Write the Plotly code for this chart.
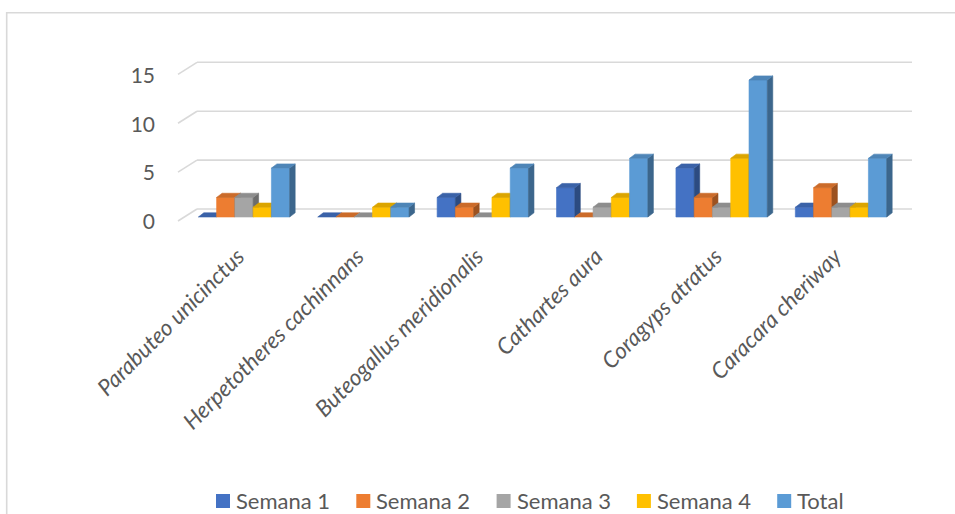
import plotly.graph_objects as go

# ---- data ----
species = [
    "Parabuteo unicinctus",
    "Herpetotheres cachinnans",
    "Buteogallus meridionalis",
    "Cathartes aura",
    "Coragyps atratus",
    "Caracara cheriway",
]
series_names = ["Semana 1", "Semana 2", "Semana 3", "Semana 4", "Total"]
semana_1 = [0, 0, 2, 3, 5, 1]
semana_2 = [2, 0, 1, 0, 2, 3]
semana_3 = [2, 0, 0, 1, 1, 1]
semana_4 = [1, 1, 2, 2, 6, 1]
total = [5, 1, 5, 6, 14, 6]
y_ticks = [0, 5, 10, 15]

series_values = [semana_1, semana_2, semana_3, semana_4, total]
front_colors = ["#4472C4", "#ED7D31", "#A5A5A5", "#FFC000", "#5B9BD5"]


def shade(hex_color, f):
    r, g, b = (int(hex_color[i:i + 2], 16) for i in (1, 3, 5))
    return "#%02x%02x%02x" % (int(r * f), int(g * f), int(b * f))


top_colors = [shade(c, 0.86) for c in front_colors]
side_colors = [shade(c, 0.66) for c in front_colors]

# ---- geometry ----
W, H = 955, 514
ML, MR, MT, MB = 178, 43, 40, 286
plot_w = W - ML - MR
plot_h = H - MT - MB
x_range = [-0.5528, 5.5946]
y_range = [-1.125, 18.10]
px_x = plot_w / (x_range[1] - x_range[0])
px_y = plot_h / (y_range[1] - y_range[0])

bar_w = 0.153
n_series = len(series_names)
depth_x = 5.5 / px_x
depth_y = 4.2 / px_y
wall_back = 8.0 / px_y
wall_front = -4.0 / px_y
wall_dx = 19.0 / plot_w

TEXT = "#595959"
GRID = "#D9D9D9"
FONT = "Lato"


def poly(xs, ys, color):
    return go.Scatter(
        x=xs + [xs[0]], y=ys + [ys[0]], mode="lines", fill="toself",
        fillcolor=color, line=dict(color=color, width=0.6),
        hoverinfo="skip", showlegend=False,
    )


fig = go.Figure()

# 3D columns, painted left to right so each column hides its neighbour's side
for i in range(len(species)):
    for k in range(n_series):
        v = series_values[k][i]
        left = i - n_series * bar_w / 2 + k * bar_w
        right = left + bar_w
        if v > 0:
            fig.add_trace(poly([left, right, right, left], [0, 0, v, v], front_colors[k]))
            fig.add_trace(poly([right, right + depth_x, right + depth_x, right],
                               [0, depth_y, v + depth_y, v], side_colors[k]))
        fig.add_trace(poly([left, right, right + depth_x, left + depth_x],
                           [v, v, v + depth_y, v + depth_y], top_colors[k]))

shapes = []
# back wall gridlines with the slanted side-wall segment at the left
for t in y_ticks:
    shapes.append(dict(type="line", xref="paper", yref="y", x0=0, x1=wall_dx,
                       y0=t + wall_front, y1=t + wall_back,
                       line=dict(color=GRID, width=1.6), layer="below"))
    shapes.append(dict(type="line", xref="paper", yref="y", x0=wall_dx, x1=1,
                       y0=t + wall_back, y1=t + wall_back,
                       line=dict(color=GRID, width=1.6), layer="below"))


def px_to_paper_x(px):
    return (px - ML) / plot_w


def px_to_paper_y(py):
    return (H - MB - py) / plot_h


# chart border (top and left edges visible)
shapes.append(dict(type="rect", xref="paper", yref="paper",
                   x0=px_to_paper_x(6.7), x1=px_to_paper_x(W + 5),
                   y0=px_to_paper_y(H + 5), y1=px_to_paper_y(12.7),
                   line=dict(color=GRID, width=1.6), layer="below"))

# legend: coloured squares followed by series names
annotations = []
leg_x0, leg_step, leg_y, sq = 216, 140.3, 501, 14
for k, name in enumerate(series_names):
    sx = leg_x0 + k * leg_step
    shapes.append(dict(type="rect", xref="paper", yref="paper",
                       x0=px_to_paper_x(sx), x1=px_to_paper_x(sx + sq),
                       y0=px_to_paper_y(leg_y + sq / 2), y1=px_to_paper_y(leg_y - sq / 2),
                       fillcolor=front_colors[k], line=dict(width=0)))
    annotations.append(dict(xref="paper", yref="paper",
                            x=px_to_paper_x(sx + sq + 4), y=px_to_paper_y(leg_y),
                            text=name, showarrow=False, xanchor="left", yanchor="middle",
                            font=dict(family=FONT, size=22, color=TEXT)))

fig.update_layout(
    width=W, height=H,
    margin=dict(l=ML, r=MR, t=MT, b=MB),
    paper_bgcolor="white", plot_bgcolor="white",
    showlegend=False,
    shapes=shapes,
    annotations=annotations,
    xaxis=dict(
        range=x_range, showgrid=False, zeroline=False, showline=False,
        tickmode="array", tickvals=list(range(len(species))),
        ticktext=["<i>%s</i>" % s for s in species],
        tickangle=-45, ticks="", ticklabelstandoff=10, ticklabelshift=-6,
        tickfont=dict(family=FONT, size=22.5, color=TEXT),
        fixedrange=True,
    ),
    yaxis=dict(
        range=y_range, showgrid=False, zeroline=False, showline=False,
        tickmode="array", tickvals=y_ticks, ticks="",
        ticklabelshift=5, ticklabelstandoff=22,
        tickfont=dict(family=FONT, size=21, color=TEXT),
        fixedrange=True,
    ),
)

fig.write_html("out.html")
